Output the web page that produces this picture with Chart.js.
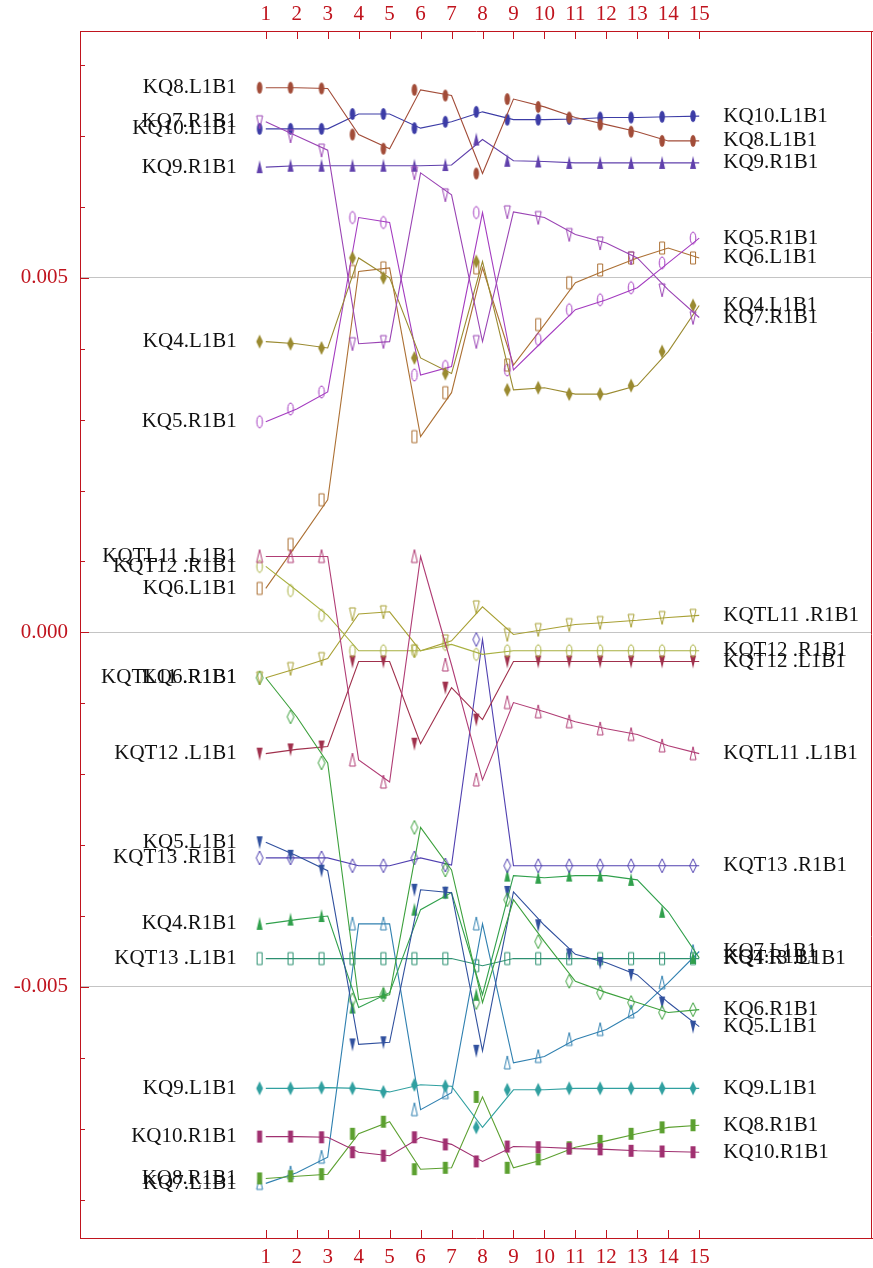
<!DOCTYPE html>
<html>
<head>
<meta charset="utf-8">
<script src="https://cdn.jsdelivr.net/npm/chart.js@4/dist/chart.umd.min.js"></script>
<style>
html, body { margin: 0; padding: 0; background: #fff; }
canvas { display: block; }
</style>
</head>
<body>
<canvas id="grafico" width="873" height="1268"></canvas>
<script>
// pasos de carga (eje x)
var pasos = [1, 2, 3, 4, 5, 6, 7, 8, 9, 10, 11, 12, 13, 14, 15];

// marcas del eje y con etiqueta
var marcasY = [0.005, 0.000, -0.005];
var textosY = ['0.005', '0.000', '-0.005'];

// valores de cada serie
var KQ8_L1B1   = [0.00768, 0.00768, 0.00767, 0.00702, 0.00682, 0.00765, 0.00757, 0.00647, 0.00752, 0.00741, 0.00726, 0.00716, 0.00706, 0.00693, 0.00693];
var KQ7_R1B1   = [0.00720, 0.00700, 0.00680, 0.00407, 0.00410, 0.00648, 0.00617, 0.00410, 0.00593, 0.00585, 0.00561, 0.00549, 0.00528, 0.00483, 0.00444];
var KQ10_L1B1  = [0.00710, 0.00710, 0.00710, 0.00731, 0.00731, 0.00711, 0.00720, 0.00734, 0.00723, 0.00723, 0.00724, 0.00726, 0.00726, 0.00727, 0.00728];
var KQ9_R1B1   = [0.00656, 0.00658, 0.00658, 0.00658, 0.00658, 0.00658, 0.00659, 0.00695, 0.00665, 0.00664, 0.00662, 0.00662, 0.00662, 0.00662, 0.00662];
var KQ4_L1B1   = [0.00410, 0.00407, 0.00401, 0.00528, 0.00500, 0.00387, 0.00365, 0.00523, 0.00342, 0.00345, 0.00336, 0.00336, 0.00348, 0.00396, 0.00461];
var KQ5_R1B1   = [0.00297, 0.00315, 0.00339, 0.00585, 0.00578, 0.00363, 0.00375, 0.00592, 0.00370, 0.00413, 0.00455, 0.00469, 0.00486, 0.00521, 0.00556];
var KQTL11_L1B1 = [0.00107, 0.00107, 0.00107, -0.00180, -0.00211, 0.00107, -0.00046, -0.00208, -0.00099, -0.00112, -0.00126, -0.00136, -0.00144, -0.00160, -0.00171];
var KQT12_R1B1 = [0.00093, 0.00059, 0.00024, -0.00026, -0.00026, -0.00026, -0.00017, -0.00031, -0.00026, -0.00026, -0.00026, -0.00026, -0.00026, -0.00026, -0.00026];
var KQ6_L1B1   = [0.00062, 0.00124, 0.00187, 0.00509, 0.00514, 0.00276, 0.00338, 0.00514, 0.00377, 0.00434, 0.00493, 0.00511, 0.00528, 0.00542, 0.00528];
var KQTL11_R1B1 = [-0.00064, -0.00051, -0.00037, 0.00026, 0.00029, -0.00026, -0.00012, 0.00036, -0.00003, 0.00004, 0.00011, 0.00014, 0.00017, 0.00021, 0.00024];
var KQ6_R1B1   = [-0.00064, -0.00119, -0.00184, -0.00518, -0.00511, -0.00275, -0.00335, -0.00522, -0.00377, -0.00436, -0.00492, -0.00508, -0.00522, -0.00536, -0.00532];
var KQT12_L1B1 = [-0.00171, -0.00165, -0.00161, -0.00041, -0.00041, -0.00157, -0.00078, -0.00123, -0.00041, -0.00041, -0.00041, -0.00041, -0.00041, -0.00041, -0.00041];
var KQ5_L1B1   = [-0.00296, -0.00315, -0.00336, -0.00581, -0.00578, -0.00363, -0.00367, -0.00590, -0.00366, -0.00413, -0.00454, -0.00466, -0.00483, -0.00522, -0.00556];
var KQT13_R1B1 = [-0.00318, -0.00318, -0.00318, -0.00329, -0.00329, -0.00318, -0.00328, -0.00010, -0.00329, -0.00329, -0.00329, -0.00329, -0.00329, -0.00329, -0.00329];
var KQ4_R1B1   = [-0.00411, -0.00405, -0.00400, -0.00529, -0.00508, -0.00391, -0.00367, -0.00511, -0.00343, -0.00346, -0.00343, -0.00343, -0.00349, -0.00394, -0.00459];
var KQT13_L1B1 = [-0.00460, -0.00460, -0.00460, -0.00460, -0.00460, -0.00460, -0.00460, -0.00470, -0.00460, -0.00460, -0.00460, -0.00460, -0.00460, -0.00460, -0.00460];
var KQ9_L1B1   = [-0.00643, -0.00643, -0.00642, -0.00643, -0.00648, -0.00638, -0.00640, -0.00698, -0.00645, -0.00645, -0.00643, -0.00643, -0.00643, -0.00643, -0.00643];
var KQ10_R1B1  = [-0.00711, -0.00711, -0.00712, -0.00733, -0.00738, -0.00712, -0.00722, -0.00746, -0.00725, -0.00726, -0.00728, -0.00729, -0.00731, -0.00732, -0.00733];
var KQ8_R1B1   = [-0.00770, -0.00767, -0.00764, -0.00707, -0.00690, -0.00757, -0.00755, -0.00655, -0.00755, -0.00743, -0.00726, -0.00717, -0.00707, -0.00698, -0.00695];
var KQ7_L1B1   = [-0.00777, -0.00762, -0.00740, -0.00411, -0.00411, -0.00673, -0.00649, -0.00411, -0.00607, -0.00598, -0.00574, -0.00560, -0.00535, -0.00494, -0.00450];

var rojo = '#c0141e';

// nombre, datos, color, forma del marcador, relleno
var series = [
	['KQ8.L1B1',     KQ8_L1B1,    '#a24c38', 'elipse', true],
	['KQ7.R1B1',     KQ7_R1B1,    '#9a44b4', 'abajo',  false],
	['KQ10.L1B1',    KQ10_L1B1,   '#3c3ca6', 'elipse', true],
	['KQ9.R1B1',     KQ9_R1B1,    '#6040ac', 'arriba', true],
	['KQ4.L1B1',     KQ4_L1B1,    '#9a8a30', 'rombo',  true],
	['KQ5.R1B1',     KQ5_R1B1,    '#a43cc0', 'elipse', false],
	['KQTL11 .L1B1', KQTL11_L1B1, '#b03c74', 'arriba', false],
	['KQT12 .R1B1',  KQT12_R1B1,  '#a8b040', 'elipse', false],
	['KQ6.L1B1',     KQ6_L1B1,    '#ac7034', 'rect',   false],
	['KQTL11 .R1B1', KQTL11_R1B1, '#a8a034', 'abajo',  false],
	['KQ6.R1B1',     KQ6_R1B1,    '#3ca03c', 'rombo',  false],
	['KQT12 .L1B1',  KQT12_L1B1,  '#a0304c', 'abajo',  true],
	['KQ5.L1B1',     KQ5_L1B1,    '#30509e', 'abajo',  true],
	['KQT13 .R1B1',  KQT13_R1B1,  '#5040b0', 'rombo',  false],
	['KQ4.R1B1',     KQ4_R1B1,    '#30a04c', 'arriba', true],
	['KQT13 .L1B1',  KQT13_L1B1,  '#2c9070', 'rect',   false],
	['KQ9.L1B1',     KQ9_L1B1,    '#30a0a0', 'rombo',  true],
	['KQ10.R1B1',    KQ10_R1B1,   '#a03070', 'rect',   true],
	['KQ8.R1B1',     KQ8_R1B1,    '#5ca030', 'rect',   true],
	['KQ7.L1B1',     KQ7_L1B1,    '#3080b0', 'arriba', false]
];

function marcador(forma, lleno, color)
{
	var c = document.createElement('canvas');
	c.width = 10; c.height = 16;
	var g = c.getContext('2d');
	var cx = 5, cy = 8;
	g.strokeStyle = color; g.fillStyle = color; g.lineWidth = 1;
	g.beginPath();
	if (forma == 'elipse') g.ellipse(cx, cy, 2.8, 6, 0, 0, 2 * Math.PI);
	else if (forma == 'rombo') { g.moveTo(cx, cy - 7); g.lineTo(cx + 3.4, cy); g.lineTo(cx, cy + 7); g.lineTo(cx - 3.4, cy); g.closePath(); }
	else if (forma == 'arriba') { g.moveTo(cx, cy - 7); g.lineTo(cx + 3, cy + 6); g.lineTo(cx - 3, cy + 6); g.closePath(); }
	else if (forma == 'abajo') { g.moveTo(cx - 3, cy - 6); g.lineTo(cx + 3, cy - 6); g.lineTo(cx, cy + 7); g.closePath(); }
	else g.rect(cx - 2.5, cy - 6, 5, 12);
	if (lleno) g.fill(); else g.stroke();
	return c;
}

function esMayor(v)
{
	return marcasY.some(function(m){ return Math.abs(m - v) < 1e-7; });
}

var datasets = [];
series.forEach(function(s){
	datasets.push({
		data: pasos.map(function(p, i){ return {x: p, y: s[1][i]}; }),
		showLine: true, borderColor: s[2], borderWidth: 1.1, pointRadius: 0
	});
	// los marcadores van un poco a la izquierda de la linea
	datasets.push({
		data: pasos.map(function(p, i){ return {x: p - 0.2, y: s[1][i]}; }),
		showLine: false, pointStyle: marcador(s[3], s[4], s[2]), pointRadius: 6
	});
});

var fuente = {family: '"Liberation Serif", "Times New Roman", serif', size: 21};

function ejeX(pos, alto, relleno)
{
	return {
		type: 'linear', position: pos, min: -5, max: 20.58,
		afterFit: function(s){ s.height = alto; s.paddingLeft = 0; s.paddingRight = 0; },
		grid: {display: false, drawTicks: false},
		border: {color: rojo, width: 1},
		ticks: {
			stepSize: 1, autoSkip: false, includeBounds: false, maxRotation: 0,
			color: rojo, font: fuente, padding: relleno,
			callback: function(v){ return pasos.indexOf(v) >= 0 ? String(v) : ''; }
		}
	};
}

var extras = {
	id: 'extras',
	afterDraw: function(chart)
	{
		var ctx = chart.ctx, a = chart.chartArea;
		var X = chart.scales.x, Y = chart.scales.y;
		ctx.save();
		ctx.strokeStyle = rojo; ctx.lineWidth = 1;
		ctx.beginPath();
		ctx.moveTo(a.right - 0.5, a.top); ctx.lineTo(a.right - 0.5, a.bottom);
		Y.ticks.forEach(function(t){
			var py = Math.round(Y.getPixelForValue(t.value)) + 0.5;
			ctx.moveTo(a.left, py); ctx.lineTo(a.left + (esMayor(t.value) ? 9 : 5), py);
		});
		pasos.forEach(function(p){
			var px = Math.round(X.getPixelForValue(p)) + 0.5;
			ctx.moveTo(px, a.bottom); ctx.lineTo(px, a.bottom - 8);
			ctx.moveTo(px, a.top); ctx.lineTo(px, a.top + 8);
		});
		ctx.stroke();

		ctx.font = '21px "Liberation Serif", "Times New Roman", serif';
		ctx.fillStyle = '#111';
		ctx.textBaseline = 'middle';
		series.forEach(function(s){
			var d = s[1];
			ctx.textAlign = 'right';
			ctx.fillText(s[0], X.getPixelForValue(pasos[0]) - 29, Y.getPixelForValue(d[0]));
			ctx.textAlign = 'left';
			ctx.fillText(s[0], X.getPixelForValue(pasos[pasos.length - 1]) + 24, Y.getPixelForValue(d[d.length - 1]));
		});
		ctx.restore();
	}
};

new Chart(document.getElementById('grafico').getContext('2d'), {
	type: 'scatter',
	data: {datasets: datasets},
	plugins: [extras],
	options: {
		responsive: false,
		animation: false,
		devicePixelRatio: 1,
		layout: {autoPadding: false, padding: {left: 0, right: 1, top: 0, bottom: 0}},
		plugins: {legend: {display: false}, tooltip: {enabled: false}},
		scales: {
			x: ejeX('bottom', 30, 7),
			x2: ejeX('top', 31, 4),
			y: {
				min: -0.00854, max: 0.00848,
				afterFit: function(s){ s.width = 80; s.paddingTop = 0; s.paddingBottom = 0; },
				grid: {
					drawTicks: false, lineWidth: 1,
					color: function(c){ return esMayor(c.tick.value) ? '#c4c4c4' : 'rgba(0,0,0,0)'; }
				},
				border: {color: rojo, width: 1},
				ticks: {
					stepSize: 0.001, autoSkip: false, includeBounds: false,
					color: rojo, font: fuente, padding: 12,
					callback: function(v){
						for (var i = 0; i < marcasY.length; i++) if (Math.abs(marcasY[i] - v) < 1e-7) return textosY[i];
						return '';
					}
				}
			}
		}
	}
});
</script>
</body>
</html>
